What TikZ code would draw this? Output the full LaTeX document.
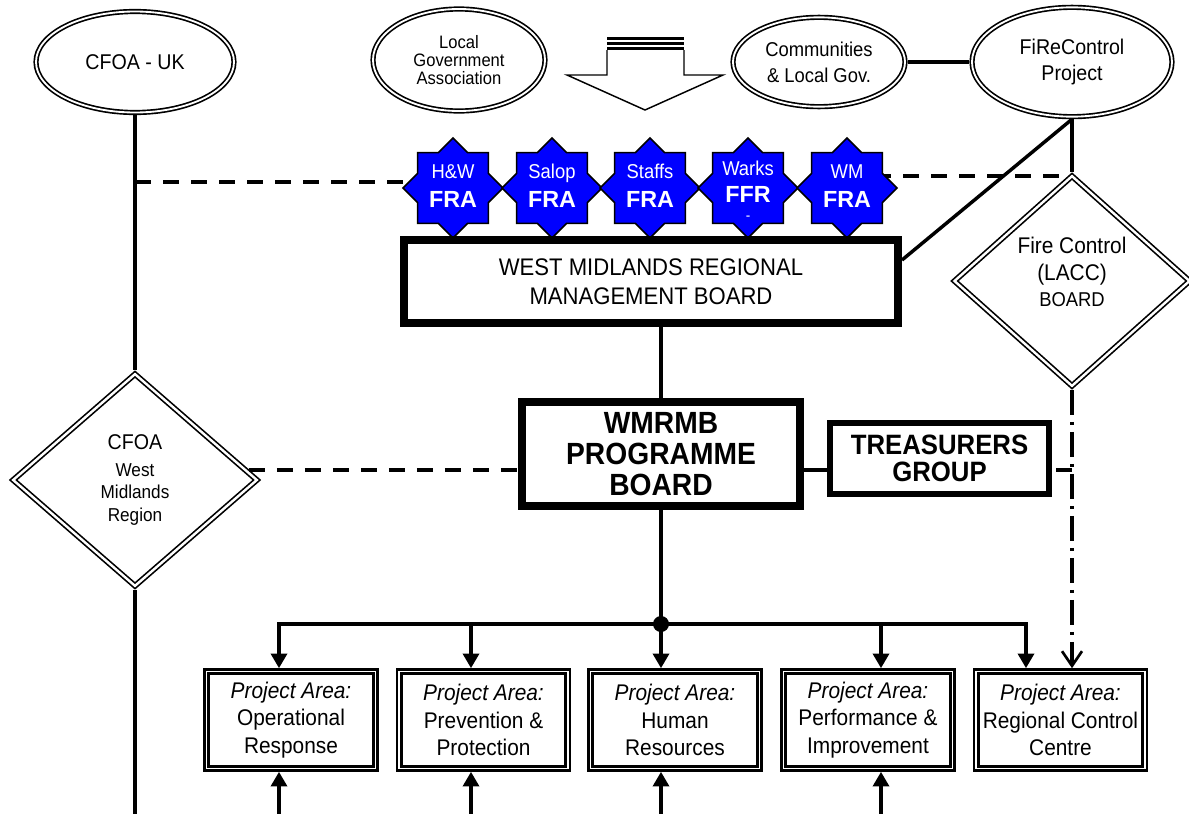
\documentclass[tikz,border=0pt]{standalone}
\usepackage{fontspec}
\setmainfont{Liberation Sans}[FakeStretch=0.92]
\newfontfamily\plainsans{Liberation Sans}
\usetikzlibrary{shapes.geometric,arrows.meta,calc,backgrounds}
\newcommand\fratxt[1]{{\plainsans\bfseries\fontsize{17.5}{22}\selectfont #1}}
\begin{document}
\begin{tikzpicture}[x=0.75pt,y=-0.75pt,
  conn/.style={line width=2.6pt},
  dsh/.style={line width=2.6pt, dash pattern=on 12pt off 9pt},
  dashdot/.style={line width=2.6pt, dash pattern=on 19pt off 5pt on 2.5pt off 5pt},
  arr/.style={-{Triangle[length=11pt,width=12pt]}},
  ell/.style={ellipse, draw, double, line width=1.25pt, double distance=1.4pt, fill=white, inner sep=0pt, outer sep=1.9pt, align=center},
  dia/.style={diamond, draw, double, line width=1.25pt, double distance=1.8pt, fill=white, inner sep=0pt, outer sep=2.1pt, align=center},
  fra/.style={star, star points=8, star point ratio=1.3066, minimum size=75pt, inner sep=0pt, draw=black, fill=blue, line width=1.1pt},
  fratext/.style={text=white, align=center, inner sep=0pt, font=\fontsize{15}{22}\selectfont},
  board/.style={draw, inner sep=0pt, align=center},
  proj/.style={draw, double, line width=2pt, double distance=1.2pt, minimum width=126.5pt, minimum height=72.5pt, inner sep=0pt, outer sep=2.6pt, align=center, font=\fontsize{17}{20.5}\selectfont},
]
\useasboundingbox (0,0) rectangle (1189,814);

% top ellipses
\node[ell, minimum width=148.5pt, minimum height=75.75pt, font=\fontsize{16}{19}\selectfont] (cfoauk) at (135,62) {CFOA - UK};
\node[ell, minimum width=129pt, minimum height=76.5pt, font=\fontsize{13.5}{13.5}\selectfont] (lga) at (459,60) {Local\\Government\\Association};
\node[ell, minimum width=129pt, minimum height=67pt, font=\fontsize{15}{19.5}\selectfont] (comm) at (819,62) {Communities\\\& Local Gov.};
\node[ell, minimum width=150pt, minimum height=82pt, font=\fontsize{16}{19.5}\selectfont] (frc) at (1072,62) {FiReControl\\Project};

% block arrow
\draw[line width=1.1pt, fill=white] (607,50) -- (607,75) -- (567,75) -- (645,110) -- (723,75) -- (684,75) -- (684,50);
\foreach \yy in {38.5,43.5,48.5} \draw[line width=2.4pt] (607,\yy) -- (684,\yy);

% stars
\foreach \i/\x in {1/453,2/552,3/650,4/748,5/847} \node[fra] (s\i) at (\x,188) {};
\node[fratext] (t1) at (453,186) {H\&W\\\fratxt{FRA}};
\node[fratext] (t2) at (552,186) {Salop\\\fratxt{FRA}};
\node[fratext] (t3) at (650,186) {Staffs\\\fratxt{FRA}};
\node[fratext, font=\fontsize{15}{20.5}\selectfont] (t4) at (748,182) {Warks\\\fratxt{FFR}};
\node[text=white, inner sep=0pt, font=\fontsize{11}{11}\selectfont] (t4d) at (748,218) {-};
\node[fratext] (t5) at (847,186) {WM\\\fratxt{FRA}};

% boards
\node[board, line width=6pt, minimum width=370.5pt, minimum height=62.25pt, font=\fontsize{18}{22}\selectfont] (wmrb) at (651,281.5) {WEST MIDLANDS REGIONAL\\MANAGEMENT BOARD};
\node[board, line width=6pt, minimum width=208.5pt, minimum height=78pt, font=\bfseries\fontsize{23}{23.5}\selectfont] (prog) at (661,454) {WMRMB\\PROGRAMME\\BOARD};
\node[board, line width=4.5pt, minimum width=164.25pt, minimum height=53.25pt, font=\bfseries\fontsize{21}{20}\selectfont] (treas) at (939.5,458.5) {TREASURERS\\GROUP};

% diamonds
\node[dia, minimum width=184.5pt, minimum height=160.5pt, font=\fontsize{14}{17}\selectfont] (cfoawm) at (135,480) {{\fontsize{16}{17}\selectfont CFOA}\\[3pt]West\\Midlands\\Region};
\node[dia, minimum width=178pt, minimum height=159pt] (fcb) at (1072,281) {};
\node[align=center, inner sep=0pt, font=\fontsize{17}{20}\selectfont] (fcbt) at (1072,272) {Fire Control\\(LACC)\\{\fontsize{15}{20}\selectfont BOARD}};

% project areas
\node[proj] (p1) at (291,720) {\textit{Project Area:}\\Operational\\Response};
\node[proj] (p2) at (483.5,720) {\textit{Project Area:}\\Prevention \&\\Protection};
\node[proj] (p3) at (675,720) {\textit{Project Area:}\\Human\\Resources};
\node[proj] (p4) at (868,720) {\textit{Project Area:}\\Performance \&\\Improvement};
\node[proj] (p5) at (1060.5,720) {\textit{Project Area:}\\Regional Control\\Centre};

% coordinates
\coordinate (bus) at (661,624);
\coordinate (a1) at (279,624);
\coordinate (a2) at (471,624);
\coordinate (a4) at (881,624);
\coordinate (a5) at (1026,624);
\coordinate (b1) at (279,814);
\coordinate (b2) at (471,814);
\coordinate (b3) at (661,814);
\coordinate (b4) at (881,814);
\coordinate (cbot) at (135,814);

% connectors
\begin{scope}[on background layer]
\draw[dsh] (cfoauk.south |- 0,182) -- (s1.center |- 0,182);
\draw[dsh] (s5.center |- 0,176) -- (fcb.north |- 0,176);
\end{scope}
\draw[conn] (cfoauk) -- (cfoawm);
\draw[conn] (cfoawm.south) -- (cbot);
\draw[conn] (comm) -- (frc);
\draw[conn] (frc.south) -- (fcb.north);
\draw[conn] (frc.south) -- (wmrb.east |- 0,260);
\draw[conn] (prog.north) -- (prog.north |- wmrb.south);
\draw[dsh] ($(cfoawm.east)+(-12,-10)$) -- (prog.west |- 0,470);
\draw[conn] (prog.east |- 0,470) -- (treas.west |- 0,470);
\draw[dsh] ($(treas.east |- 0,470)+(4,0)$) -- (fcb.south |- 0,470);
\draw[dashdot, -{Straight Barb[length=11pt,width=15pt,line width=2pt]}] (fcb.south) -- (fcb.south |- p5.north);

\draw[conn] (prog.south) -- (bus);
\fill (bus) circle (6pt);
\draw[conn, arr] (bus) -| (p1.north -| a1);
\draw[conn, arr] (a2) -- (p2.north -| a2);
\draw[conn, arr] (bus) -- (p3.north -| bus);
\draw[conn, arr] (a4) -- (p4.north -| a4);
\draw[conn, arr] (bus) -| (p5.north -| a5);

\draw[conn, arr] (b1) -- (p1.south -| b1);
\draw[conn, arr] (b2) -- (p2.south -| b2);
\draw[conn, arr] (b3) -- (p3.south -| b3);
\draw[conn, arr] (b4) -- (p4.south -| b4);
\end{tikzpicture}
\end{document}
